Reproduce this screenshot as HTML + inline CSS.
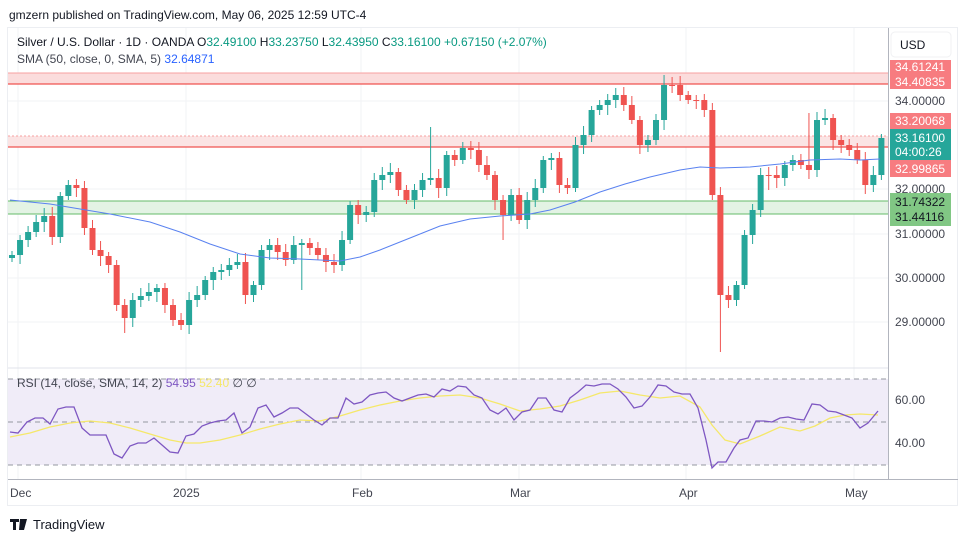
<!DOCTYPE html><html><head><meta charset="utf-8"><style>
body{margin:0;background:#fff;width:964px;height:542px;overflow:hidden;font-family:"Liberation Sans",sans-serif}
</style></head><body>
<svg id="s" width="964" height="542" xmlns="http://www.w3.org/2000/svg" font-family="Liberation Sans, sans-serif">
<rect width="964" height="542" fill="#fff"/>
<rect x="7.5" y="27.5" width="950" height="478" fill="#fff" stroke="#eceef2"/>
<text x="9" y="19" font-size="12" fill="#131722">gmzern published on TradingView.com, May 06, 2025 12:59 UTC-4</text>
<g stroke="#f2f3f5">
<line x1="8" y1="101" x2="888" y2="101"/><line x1="8" y1="145" x2="888" y2="145"/><line x1="8" y1="189" x2="888" y2="189"/><line x1="8" y1="234" x2="888" y2="234"/><line x1="8" y1="278" x2="888" y2="278"/><line x1="8" y1="322" x2="888" y2="322"/>
<line x1="18" y1="28" x2="18" y2="479"/><line x1="186" y1="28" x2="186" y2="479"/><line x1="361" y1="28" x2="361" y2="479"/><line x1="519" y1="28" x2="519" y2="479"/><line x1="686" y1="28" x2="686" y2="479"/><line x1="854" y1="28" x2="854" y2="479"/>
</g>
<rect x="8" y="73" width="880" height="11" fill="#fbdcdc"/>
<line x1="8" y1="73" x2="888" y2="73" stroke="#f7a1a1"/><line x1="8" y1="84" x2="888" y2="84" stroke="#ef5350" stroke-width="1.3"/>
<rect x="8" y="136" width="880" height="11" fill="#fbe4e4"/>
<line x1="8" y1="136" x2="888" y2="136" stroke="#f7a1a1" stroke-dasharray="2 2"/><line x1="8" y1="147" x2="888" y2="147" stroke="#ef5350" stroke-width="1.3"/>
<rect x="8" y="201" width="880" height="13" fill="#e3f3e4"/>
<line x1="8" y1="201" x2="888" y2="201" stroke="#66bb6a"/><line x1="8" y1="214" x2="888" y2="214" stroke="#66bb6a"/>
<g id="candles"></g>
<polyline id="sma" fill="none" stroke="#5a82f0" stroke-width="1"/>
<rect x="8" y="379" width="880" height="86" fill="#f0ecf8"/>
<g stroke="#9598a1" stroke-dasharray="5 4"><line x1="8" y1="379" x2="888" y2="379"/><line x1="8" y1="422" x2="888" y2="422"/><line x1="8" y1="465" x2="888" y2="465"/></g>
<line x1="8" y1="368" x2="888" y2="368" stroke="#e0e3eb"/>
<polyline id="rsima" fill="none" stroke="#f5e86a" stroke-width="1.3"/>
<polyline id="rsi" fill="none" stroke="#7e57c2" stroke-width="1.3"/>
<line x1="888.5" y1="28" x2="888.5" y2="479" stroke="#b2b5be"/>
<line x1="8" y1="479.5" x2="958" y2="479.5" stroke="#b2b5be"/>
<g font-size="12" fill="#131722">
<text x="17" y="46">Silver / U.S. Dollar · 1D · OANDA  O<tspan fill="#089981">32.49100</tspan> H<tspan fill="#089981">33.23750</tspan> L<tspan fill="#089981">32.43950</tspan> C<tspan fill="#089981">33.16100</tspan> <tspan fill="#089981">+0.67150 (+2.07%)</tspan></text>
<text x="17" y="63" fill="#434651">SMA (50, close, 0, SMA, 5)  <tspan fill="#2962ff">32.64871</tspan></text>
<text x="17" y="387" fill="#434651">RSI (14, close, SMA, 14, 2)  <tspan fill="#7e57c2">54.95</tspan> <tspan fill="#f5e86a">52.40</tspan>  ∅  ∅</text>
</g>
<rect x="891" y="32" width="60" height="25" rx="4" fill="#fff" stroke="#f0f1f3"/>
<text x="900" y="49" font-size="12" fill="#131722">USD</text>
<g font-size="12">
<rect x="890" y="60" width="61" height="29" fill="#f77c80"/>
<text x="895" y="71" fill="#fff">34.61241</text><text x="895" y="86" fill="#fff">34.40835</text>
<text x="895" y="105" fill="#434651">34.00000</text>
<rect x="890" y="113" width="61" height="16" fill="#f77c80"/><text x="895" y="125" fill="#fff">33.20068</text>
<rect x="890" y="129" width="61" height="31" fill="#26a69a"/><text x="895" y="142" fill="#fff">33.16100</text><text x="895" y="156" fill="#fff">04:00:26</text>
<rect x="890" y="160" width="61" height="17" fill="#f77c80"/><text x="895" y="173" fill="#fff">32.99865</text>
<text x="895" y="193" fill="#434651">32.00000</text>
<rect x="890" y="193" width="61" height="33" fill="#81c784"/><text x="895" y="206" fill="#131722">31.74322</text><text x="895" y="221" fill="#131722">31.44116</text>
<text x="895" y="238" fill="#434651">31.00000</text>
<text x="895" y="282" fill="#434651">30.00000</text>
<text x="895" y="326" fill="#434651">29.00000</text>
<text x="895" y="404" fill="#434651">60.00</text>
<text x="895" y="447" fill="#434651">40.00</text>
<text x="10" y="497" fill="#434651">Dec</text>
<text x="173" y="497" fill="#434651">2025</text>
<text x="352" y="497" fill="#434651">Feb</text>
<text x="510" y="497" fill="#434651">Mar</text>
<text x="679" y="497" fill="#434651">Apr</text>
<text x="845" y="497" fill="#434651">May</text>
</g>
<path d="M10 519h9v3h-3v8h-3v-8h-3z M20 519h3l-2 11h-2z M23 519h4l-3 11h-3z" fill="#131722"/>
<text x="33" y="529" font-size="13" fill="#131722">TradingView</text>
</svg>
<script>
var c=[255,240,232,222,216,237,196,185,188,228,250,256,265,305,318,300,296,292,288,305,320,325,300,295,280,272,270,265,262,295,285,250,245,252,260,245,243,248,255,262,265,240,205,215,212,180,175,172,190,200,190,180,178,188,155,160,148,150,165,175,200,215,195,220,200,188,160,158,185,188,145,135,110,105,100,95,105,120,145,140,120,85,85,95,100,100,110,195,295,300,285,235,210,175,175,178,165,160,165,170,120,118,140,145,150,160,185,175,138];
var g=document.getElementById('candles'),h='';
var ext={14:[null,333],21:[null,330],36:[null,290],52:[127,null],61:[null,240],81:[75,null],88:[null,352],94:[null,190],99:[113,null]};
for(var i=0;i<c.length;i++){var x=12+i*8.05,o=i?c[i-1]:258,cl=c[i];var up=cl<o;var col=up?'#26a69a':'#ef5350';
var t=Math.min(o,cl),b=Math.max(o,cl);var hi=t-4-(i*7%6),lo=b+4+(i*5%7);if(ext[i]){if(ext[i][0])hi=ext[i][0];if(ext[i][1])lo=ext[i][1];}
h+='<line x1="'+x+'" y1="'+hi+'" x2="'+x+'" y2="'+lo+'" stroke="'+col+'"/><rect x="'+(x-3)+'" y="'+t+'" width="6" height="'+Math.max(1,b-t)+'" fill="'+col+'"/>';}
g.innerHTML=h;
document.getElementById('sma').setAttribute('points','10,200 50,204 110,214 150,222 180,232 210,244 240,254 270,258 300,259 340,261 360,257 380,250 410,238 440,226 470,219 500,216 530,214 550,210 575,202 600,192 625,184 650,177 680,170 700,167 720,168 750,167 780,164 810,160 840,159 860,160 880,159');
document.getElementById('rsi').setAttribute('points','10,432 18,433 27,422 35,418 43,418 50,424 58,409 66,407 74,407 82,428 90,435 98,435 106,435 114,454 122,458 130,446 138,443 146,443 154,438 162,445 170,452 178,453 186,436 194,434 202,426 210,423 218,421 226,420 234,413 242,433 250,427 258,408 266,405 274,417 282,413 290,408 298,408 306,414 314,420 322,425 330,418 338,418 346,398 354,404 362,402 370,395 378,393 386,392 394,398 402,401 410,398 418,395 426,394 434,397 442,389 450,391 458,386 466,387 474,395 482,398 490,410 498,414 506,408 514,420 522,412 530,410 538,398 546,398 554,410 562,412 570,398 578,392 586,385 594,386 602,384 610,384 618,389 626,397 634,408 642,406 650,397 658,385 666,386 674,392 682,394 690,394 698,408 706,440 712,468 718,462 726,462 734,448 740,440 748,438 756,421 764,421 772,422 780,418 788,417 796,419 804,420 812,404 820,405 828,411 836,412 844,415 852,418 860,428 868,423 878,411');
document.getElementById('rsima').setAttribute('points','10,437 30,433 50,427 70,423 90,421 110,423 130,428 150,434 170,440 186,443 200,443 220,440 240,435 260,429 280,424 300,420 320,421 340,416 360,410 380,405 400,401 420,398 440,396 460,395 480,398 500,404 520,411 540,409 560,406 580,400 600,393 620,391 640,395 660,398 680,396 700,407 712,425 725,440 740,444 760,436 780,427 800,431 815,426 830,418 845,415 860,414 878,415');
</script>
</body></html>
